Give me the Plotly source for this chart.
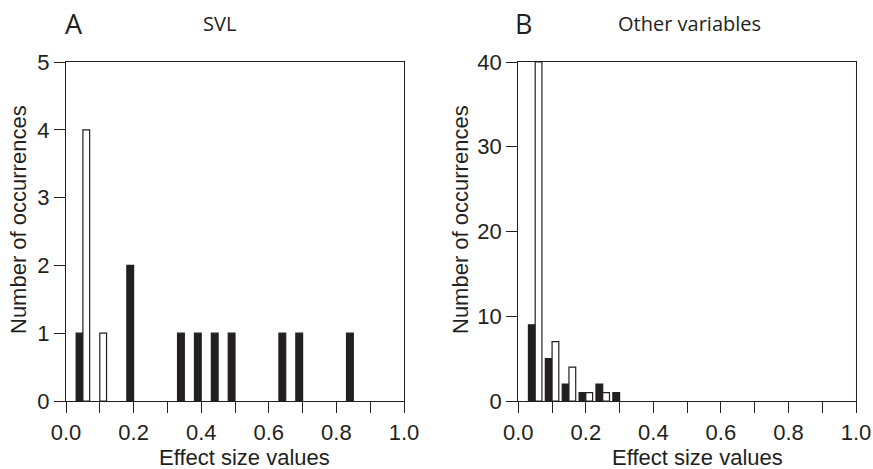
import plotly.graph_objects as go

W, H = 873, 469
DARK = "#231f20"

# Panel A (SVL)
a_black_x = [0.05, 0.20, 0.35, 0.40, 0.45, 0.50, 0.65, 0.70, 0.85]
a_black_y = [1, 2, 1, 1, 1, 1, 1, 1, 1]
a_white_x = [0.05, 0.10]
a_white_y = [4, 1]

# Panel B (Other variables)
b_black_x = [0.05, 0.10, 0.15, 0.20, 0.25, 0.30]
b_black_y = [9, 5, 2, 1, 2, 1]
b_white_x = [0.05, 0.10, 0.15, 0.20, 0.25]
b_white_y = [40, 7, 4, 1, 1]

x_tickvals = [0.0, 0.1, 0.2, 0.3, 0.4, 0.5, 0.6, 0.7, 0.8, 0.9, 1.0]
x_ticktext = ["0.0", "", "0.2", "", "0.4", "", "0.6", "", "0.8", "", "1.0"]
a_yticks = [0, 1, 2, 3, 4, 5]
b_yticks = [0, 10, 20, 30, 40]

BW = 0.02

fig = go.Figure()

def add_bars(xs, ys, xa, ya, black):
    fig.add_trace(go.Bar(
        x=xs, y=ys, xaxis=xa, yaxis=ya,
        width=[BW] * len(xs),
        offset=[-BW] * len(xs) if black else [0] * len(xs),
        marker=dict(color=DARK if black else "white",
                    line=dict(color=DARK, width=1.2)),
        showlegend=False, hoverinfo="x+y",
    ))

add_bars(a_black_x, a_black_y, "x", "y", True)
add_bars(a_white_x, a_white_y, "x", "y", False)
add_bars(b_black_x, b_black_y, "x2", "y2", True)
add_bars(b_white_x, b_white_y, "x2", "y2", False)

tickfont = dict(family="Liberation Sans, Arial, sans-serif", size=22, color=DARK)

def xax(domain, anchor):
    return dict(domain=domain, anchor=anchor, range=[0, 1], automargin=False,
                tickvals=x_tickvals, ticktext=x_ticktext,
                ticks="outside", ticklen=11, tickwidth=1.2, tickcolor=DARK,
                showline=True, linecolor=DARK, linewidth=1.2, mirror=True,
                showgrid=False, zeroline=False, tickfont=tickfont, fixedrange=True)

def yax(domain, anchor, rng, vals):
    return dict(domain=domain, anchor=anchor, range=rng, automargin=False,
                tickvals=vals, ticktext=[str(v) for v in vals],
                ticks="outside", ticklen=11, tickwidth=1.2, tickcolor=DARK,
                showline=True, linecolor=DARK, linewidth=1.2, mirror=True,
                showgrid=False, zeroline=False, tickfont=tickfont, fixedrange=True)

ydom = [1 - 401 / H, 1 - 62 / H]
fig.update_layout(
    width=W, height=H,
    margin=dict(l=0, r=0, t=0, b=0, autoexpand=False),
    paper_bgcolor="white", plot_bgcolor="white",
    barmode="overlay",
    xaxis=xax([66 / W, 404 / W], "y"),
    yaxis=yax(ydom, "x", [0, 5], a_yticks),
    xaxis2=xax([518.3 / W, 856 / W], "y2"),
    yaxis2=yax(ydom, "x2", [0, 40], b_yticks),
)

titlefont = dict(family="Liberation Sans, Arial, sans-serif", size=22, color=DARK)
headfont = dict(family="Open Sans, Noto Sans, sans-serif", size=20, color=DARK)
letterfont = dict(family="Open Sans, Noto Sans, sans-serif", size=27, color=DARK)

def ann(text, xpx, ypx, font, angle=0):
    fig.add_annotation(text=text, x=xpx / W, y=1 - ypx / H, xref="paper", yref="paper",
                       showarrow=False, font=font, textangle=angle,
                       xanchor="center", yanchor="middle")

ann("Number of occurrences", 18, 220, titlefont, -90)
ann("Number of occurrences", 460, 220, titlefont, -90)
ann("Effect size values", 244, 457, titlefont)
ann("Effect size values", 697, 457, titlefont)
ann("A", 74, 24, letterfont)
ann("SVL", 219, 24, headfont)
ann("B", 523, 24, letterfont)
ann("Other variables", 689, 24, headfont)

fig.write_html("out.html", config={"displayModeBar": False})
